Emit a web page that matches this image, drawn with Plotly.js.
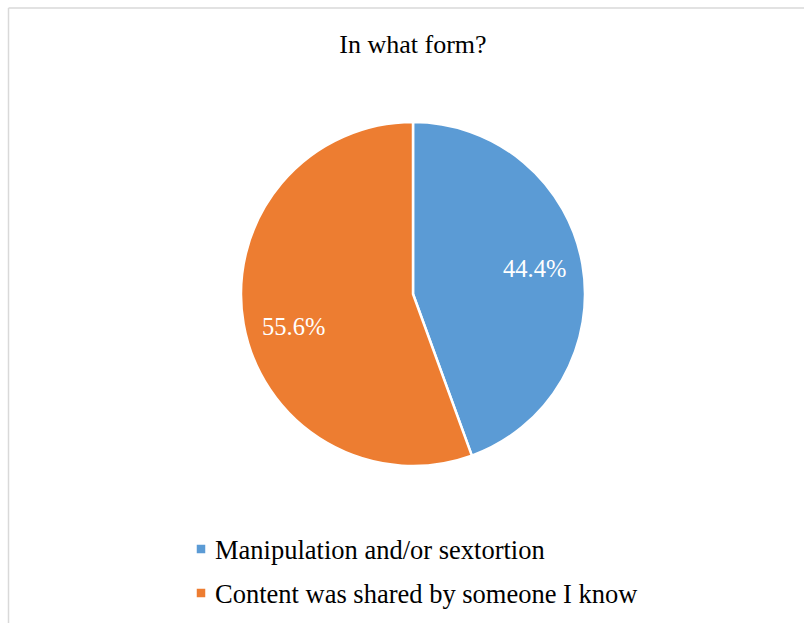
<!DOCTYPE html>
<html>
<head>
<meta charset="utf-8">
<script src="https://cdn.plot.ly/plotly-3.0.1.min.js"></script>
<style>
html,body{margin:0;padding:0;background:#fff;}
#chart{width:804px;height:623px;}
</style>
</head>
<body>
<div id="chart"></div>
<script>
const categories = ["Manipulation and/or sextortion", "Content was shared by someone I know"];
const values = [4, 5];
const colors = ["#5B9BD5", "#ED7D31"];

const FONT = "Liberation Serif";
const W = 804, H = 623;
// pie geometry (pixels)
const CX = 413, CY = 294, R = 172;
// label placement style: radial fraction and angular nudge (degrees) for "best fit" look
const LABEL_R = 0.72;
const LABEL_NUDGE = [-2, -5];

const trace = {
  type: "pie",
  labels: categories,
  values: values,
  sort: false,
  direction: "clockwise",
  rotation: 0,
  marker: {colors: colors, line: {color: "#ffffff", width: 2.5}},
  textinfo: "none",
  hoverinfo: "label+percent",
  showlegend: false,
  domain: {x: [(CX - R) / W, (CX + R) / W], y: [1 - (CY + R) / H, 1 - (CY - R) / H]}
};

// percentage labels, placed near each slice's mid angle
const total = values.reduce((a, b) => a + b, 0);
const annotations = [];
let cum = 0;
values.forEach((v, i) => {
  const frac = v / total;
  const mid = (cum + frac / 2) * 2 * Math.PI + LABEL_NUDGE[i] * Math.PI / 180;
  cum += frac;
  const rr = LABEL_R * R;
  const px = CX + rr * Math.sin(mid);
  const py = CY - rr * Math.cos(mid);
  annotations.push({
    text: (frac * 100).toFixed(1) + "%",
    x: px / W, y: 1 - py / H, xref: "paper", yref: "paper",
    xanchor: "center", yanchor: "middle", showarrow: false,
    font: {family: FONT, size: 24.5, color: "#ffffff"}
  });
});

// legend built from categories/colors
const shapes = [
  {type: "line", xref: "paper", yref: "paper", x0: 8.5 / W, x1: 1, y0: 1 - 8 / H, y1: 1 - 8 / H, line: {color: "#D9D9D9", width: 1.5}},
  {type: "line", xref: "paper", yref: "paper", x0: 8.5 / W, x1: 8.5 / W, y0: 0, y1: 1 - 8 / H, line: {color: "#D9D9D9", width: 1.5}}
];
const LX = 201, LY0 = 549, LDY = 44, SQ = 8.5;
categories.forEach((c, i) => {
  const y = LY0 + i * LDY;
  shapes.push({type: "rect", xref: "paper", yref: "paper",
    x0: (LX - SQ / 2) / W, x1: (LX + SQ / 2) / W, y0: 1 - (y + SQ / 2) / H, y1: 1 - (y - SQ / 2) / H,
    fillcolor: colors[i], line: {width: 0}});
  annotations.push({
    text: c, x: 213 / W, y: 1 - (y + 1) / H, xref: "paper", yref: "paper",
    xanchor: "left", yanchor: "middle", showarrow: false,
    font: {family: FONT, size: 26.5, color: "#000000"}
  });
});

const layout = {
  width: W, height: H,
  margin: {l: 0, r: 0, t: 0, b: 0},
  paper_bgcolor: "#ffffff",
  plot_bgcolor: "#ffffff",
  font: {family: FONT, color: "#000000"},
  title: {text: "In what form?", font: {family: FONT, size: 26, color: "#000000"},
          x: 413 / W, xanchor: "center", y: 1 - 44 / H, yanchor: "middle"},
  showlegend: false,
  annotations: annotations,
  shapes: shapes
};

Plotly.newPlot("chart", [trace], layout, {displayModeBar: false, staticPlot: true});
</script>
</body>
</html>
